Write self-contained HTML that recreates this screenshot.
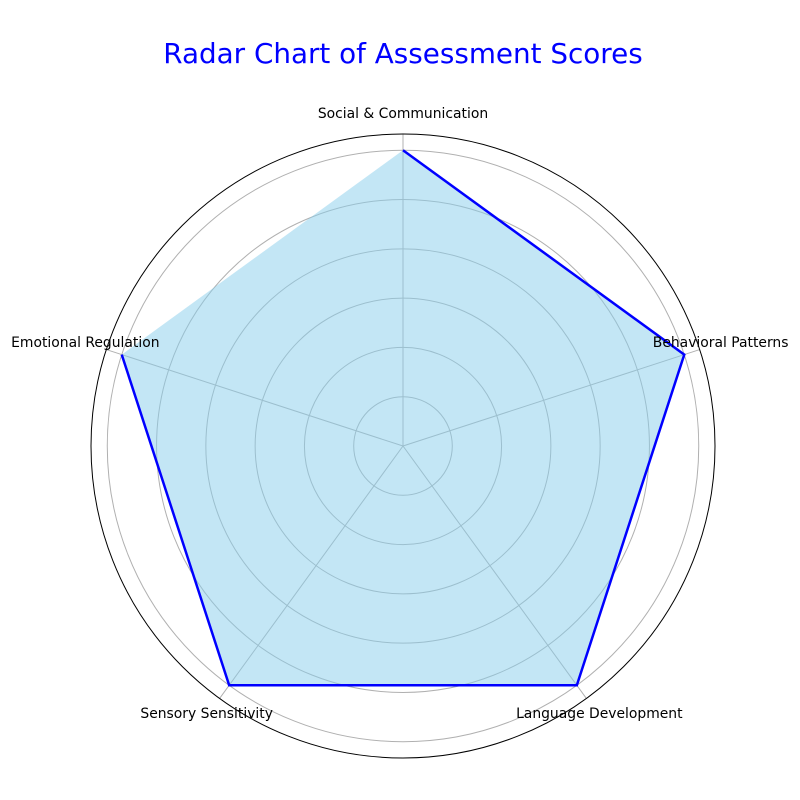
<!DOCTYPE html>
<html><head><meta charset="utf-8"><style>body{margin:0;background:#fff}svg{display:block;font-family:"DejaVu Sans","Liberation Sans",sans-serif}</style></head>
<body>
<svg id="chart" width="800" height="800" viewBox="0 0 800 800">
<text x="403" y="63" text-anchor="middle" font-size="27.8" fill="#0000ff">Radar Chart of Assessment Scores</text>
<g id="grid"></g><g id="series"></g><g id="labels"></g>
</svg>
<script>
const categories=["Social & Communication","Behavioral Patterns","Language Development","Sensory Sensitivity","Emotional Regulation"];
const values=[6,6,6,6,6];
const gridTicks=[1,2,3,4,5,6];
const cx=403,cy=446,R=312,rMax=6.33;
const ns="http://www.w3.org/2000/svg";
function r(v){return v/rMax*R;}
function ang(i){return -Math.PI/2+i*2*Math.PI/categories.length;}
function pt(i,v){return [cx+r(v)*Math.cos(ang(i)),cy+r(v)*Math.sin(ang(i))];}
function mk(tag,attrs,parent){const e=document.createElementNS(ns,tag);for(const k in attrs)e.setAttribute(k,attrs[k]);document.getElementById(parent).appendChild(e);return e;}
gridTicks.forEach(t=>{const c=mk('circle',{cx:cx,cy:cy,r:r(t),fill:'none',stroke:'#b0b0b0','stroke-width':1},'grid');

});
categories.forEach((c,i)=>{const [x,y]=pt(i,rMax);const l=mk('line',{x1:cx,y1:cy,x2:x,y2:y,stroke:'#b0b0b0','stroke-width':1},'grid');

});
const o=mk('circle',{cx:cx,cy:cy,r:R,fill:'none',stroke:'#000','stroke-width':1},'grid');


const pts=values.map((v,i)=>pt(i,v));
const f=mk('polygon',{points:pts.map(p=>p.join(',')).join(' '),fill:'skyblue','fill-opacity':0.5,stroke:'none'},'series');


const pl=mk('polyline',{points:pts.map(p=>p.join(',')).join(' '),fill:'none',stroke:'#0000ff','stroke-width':2.5},'series');


categories.forEach((c,i)=>{const a=ang(i);const d=R+22;let x=cx+d*Math.cos(a),y;
if(i==0)y=118;if(i==1||i==4)y=347;if(i==2||i==3)y=718;
const t=mk('text',{x:x,y:y,'text-anchor':'middle','font-size':13.9,fill:'#000'},'labels');t.textContent=c;

});
</script>
</body></html>
